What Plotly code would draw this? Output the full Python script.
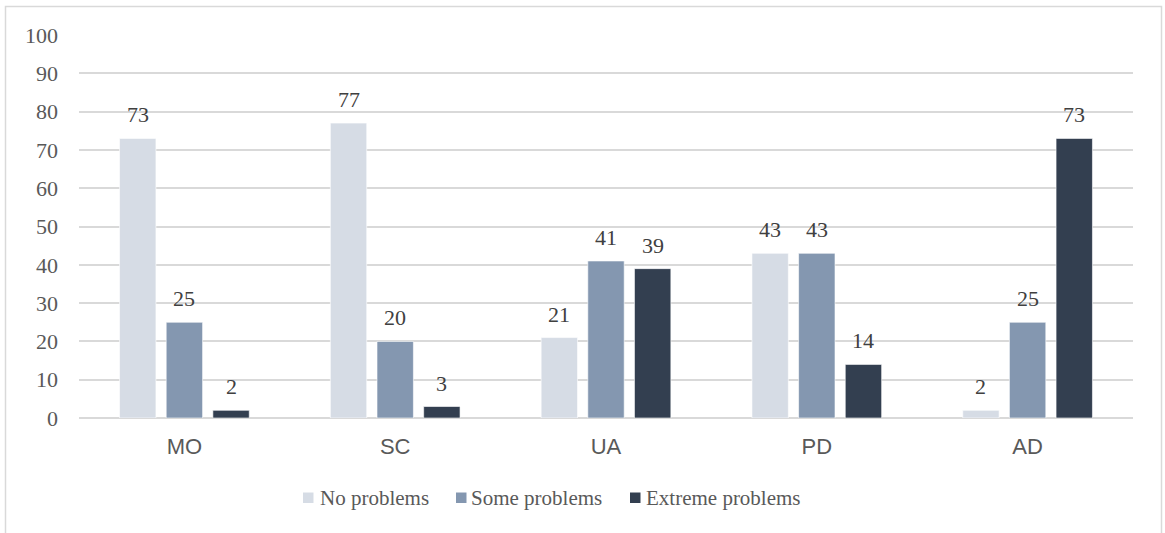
import plotly.graph_objects as go

categories = ["MO", "SC", "UA", "PD", "AD"]
no_problems = [73, 77, 21, 43, 2]
some_problems = [25, 20, 41, 43, 25]
extreme_problems = [2, 3, 39, 14, 73]

series_names = ["No problems", "Some problems", "Extreme problems"]
series_values = [no_problems, some_problems, extreme_problems]
series_colors = ["#D6DCE5", "#8497B0", "#333F50"]

W, H = 1165, 533
L, R, T, B = 79, 32, 35, 115
pw, ph = W - L - R, H - T - B
BARGAP, GROUPGAP = 0.336, 0.22

SERIF = "Liberation Serif"
SANS = "Liberation Sans"


def px_x(p):
    return (p - L) / pw


def px_y(p):
    return (H - B - p) / ph


fig = go.Figure()
for name, vals, color in zip(series_names, series_values, series_colors):
    fig.add_trace(go.Bar(
        x=categories, y=vals, name=name,
        marker=dict(color=color, line=dict(color="rgba(255,255,255,0.6)", width=1)),
        showlegend=False,
    ))

# value labels above each bar, shifted to their slot within the group
slot = pw / len(categories) * (1 - BARGAP) / len(series_names)
for i, vals in enumerate(series_values):
    dx = (i - (len(series_names) - 1) / 2) * slot
    for cat, v in zip(categories, vals):
        fig.add_annotation(
            x=cat, y=v, text=f"{v:.0f}", showarrow=False,
            xanchor="center", yanchor="bottom", xshift=dx, yshift=9,
            font=dict(family=SERIF, size=22, color="#404040"),
        )

# legend drawn as swatches and labels under the axis
legend_items = [(303, 320), (456, 471), (630, 646)]
for (sx, tx), name, color in zip(legend_items, series_names, series_colors):
    fig.add_shape(type="rect", xref="paper", yref="paper",
                  x0=px_x(sx), x1=px_x(sx + 10.5), y0=px_y(503), y1=px_y(492.5),
                  line=dict(width=0), fillcolor=color)
    fig.add_annotation(xref="paper", yref="paper", x=px_x(tx - 2), y=px_y(497.5),
                       text=name, showarrow=False, xanchor="left", yanchor="middle",
                       font=dict(family=SERIF, size=21, color="#595959"))

# outer chart frame
fig.add_shape(type="rect", xref="paper", yref="paper",
              x0=px_x(5.5), x1=px_x(1161.5), y0=px_y(540), y1=px_y(6.5),
              line=dict(color="#D9D9D9", width=1.5), fillcolor="rgba(0,0,0,0)", layer="below")

fig.update_layout(
    width=W, height=H,
    margin=dict(l=L, r=R, t=T, b=B, pad=0),
    paper_bgcolor="white", plot_bgcolor="white",
    barmode="group", bargap=BARGAP, bargroupgap=GROUPGAP,
    showlegend=False,
    xaxis=dict(showgrid=False, showline=False, ticks="", ticklabelstandoff=13,
               tickfont=dict(family=SANS, size=22, color="#595959")),
    yaxis=dict(range=[0, 100], dtick=10, showgrid=True, gridcolor="#D9D9D9", gridwidth=1.5,
               zeroline=True, zerolinecolor="#D9D9D9", zerolinewidth=1.5,
               showline=False, ticks="", ticklabelstandoff=20,
               tickfont=dict(family=SERIF, size=22, color="#595959")),
)

fig.write_html("out.html")
